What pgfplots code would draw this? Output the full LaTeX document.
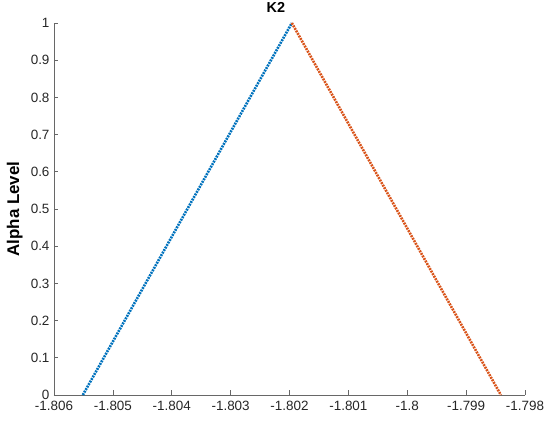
\documentclass[border=0pt]{standalone}
\usepackage{fontspec}
\setmainfont{Liberation Sans}
\usepackage{pgfplots}
\pgfplotsset{compat=1.18}
\definecolor{mblue}{RGB}{0,114,189}
\definecolor{morange}{RGB}{217,83,25}
\definecolor{axgray}{RGB}{38,38,38}
\begin{document}
\begin{tikzpicture}
\useasboundingbox (-54bp,-32bp) rectangle (496bp,395bp);
\begin{axis}[
  scale only axis, width=471bp, height=372bp,
  xmin=-1.806, xmax=-1.798, ymin=0, ymax=1,
  axis lines*=left,
  clip=false,
  xtick={-1.806,-1.805,-1.804,-1.803,-1.802,-1.801,-1.8,-1.799,-1.798},
  xticklabels={-1.806,-1.805,-1.804,-1.803,-1.802,-1.801,-1.8,-1.799,-1.798},
  ytick={0,0.1,0.2,0.3,0.4,0.5,0.6,0.7,0.8,0.9,1},
  yticklabels={0,0.1,0.2,0.3,0.4,0.5,0.6,0.7,0.8,0.9,1},
  tick align=inside, major tick length=4.5bp,
  every tick/.style={axgray!70, line width=0.6bp},
  axis line style={axgray!70, line width=0.6bp},
  tick label style={font=\fontsize{13.5}{16}\selectfont, text=axgray},
  xticklabel style={yshift=-2.5bp},
  yticklabel style={xshift=-1bp},
  title={K2},
  title style={font=\fontsize{14.5}{17}\selectfont\bfseries, at={(axis description cs:0.471,1.0134)}, anchor=base},
  ylabel={Alpha Level},
  ylabel style={font=\fontsize{17}{20}\selectfont\bfseries, at={(axis description cs:-0.0743,0.5)}, anchor=base},
]
\addplot[mblue, line width=2.6bp, dash pattern=on 1.9bp off 1bp] coordinates {(-1.80551,0) (-1.80196,1)};
\addplot[morange, line width=2.6bp, dash pattern=on 1.9bp off 1bp] coordinates {(-1.80196,1) (-1.79841,0)};
\end{axis}
\end{tikzpicture}
\end{document}
